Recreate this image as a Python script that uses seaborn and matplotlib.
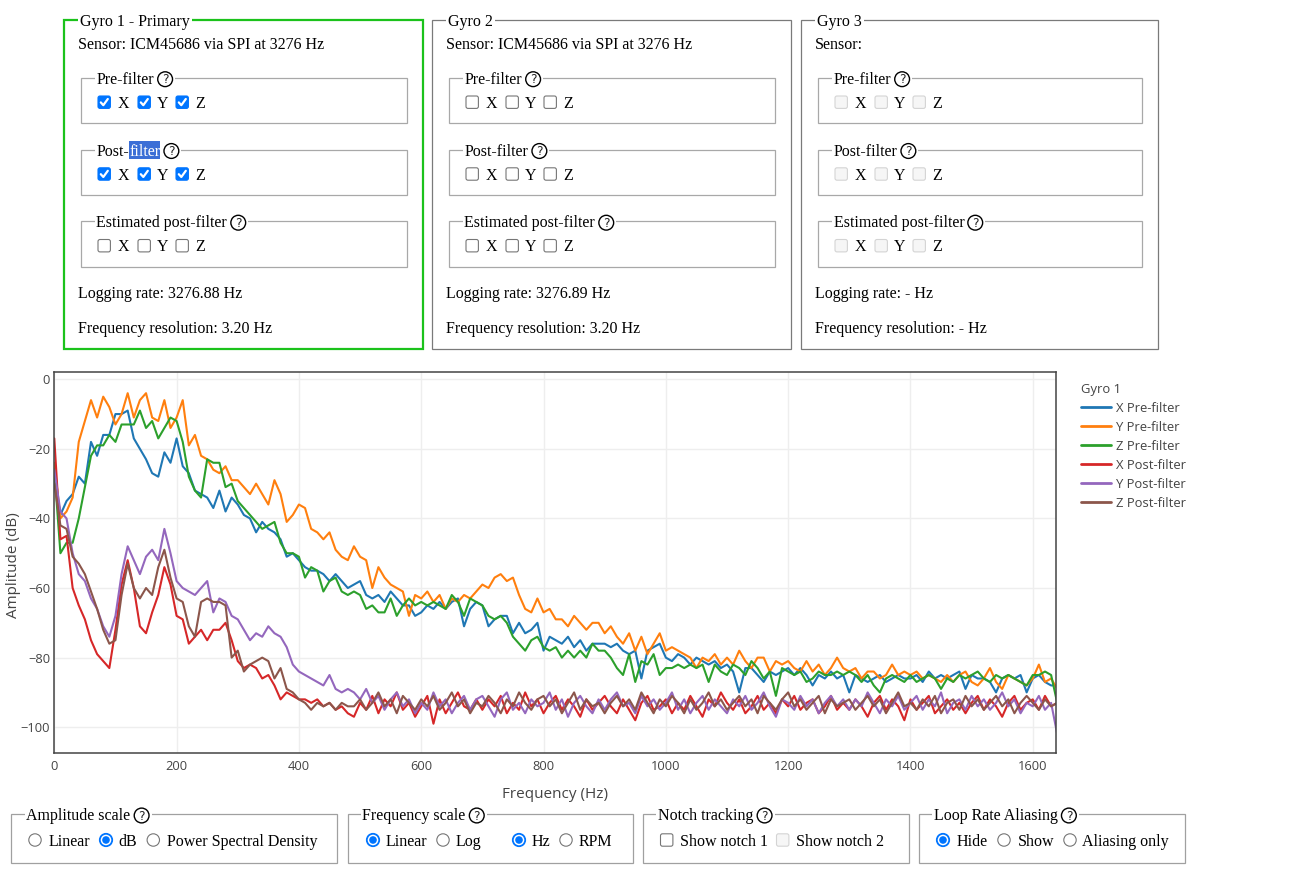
import matplotlib
matplotlib.use("Agg")
import matplotlib.pyplot as plt
from matplotlib.patches import Rectangle, Circle, FancyBboxPatch
from matplotlib.lines import Line2D
import seaborn as sns
import pandas as pd
import numpy as np

W, H = 1301, 883

# spectrum in dB, one value every 10 Hz from 0 to 1640 Hz
FREQ_STEP = 10
freqs = np.arange(0, 1641, FREQ_STEP)

x_pre = [-28, -39, -35, -33, -28, -30, -18, -22, -16, -16,
         -10, -10, -9, -17, -20, -23, -27, -28, -21, -24,
         -17, -25, -27, -32, -33, -34, -37, -32, -38, -34,
         -36, -39, -40, -44, -41, -43, -44, -46, -51, -50,
         -52, -54, -55, -55, -56, -58, -56, -58, -60, -59,
         -58, -62, -63, -62, -64, -61, -63, -65, -65, -68,
         -67, -65, -66, -64, -66, -64, -63, -71, -66, -64,
         -65, -71, -69, -68, -68, -73, -70, -73, -72, -70,
         -78, -74, -75, -76, -74, -77, -75, -78, -76, -76,
         -76, -77, -76, -78, -79, -78, -86, -78, -77, -76,
         -80, -81, -79, -80, -82, -80, -81, -82, -81, -83,
         -82, -84, -90, -83, -83, -85, -87, -84, -85, -84,
         -83, -85, -83, -85, -88, -85, -86, -84, -86, -85,
         -90, -85, -86, -87, -86, -85, -87, -86, -85, -86,
         -86, -85, -87, -84, -86, -85, -86, -85, -84, -89,
         -85, -86, -86, -87, -90, -86, -85, -86, -85, -90,
         -86, -85, -87, -88, -88]

y_pre = [-24, -40, -38, -34, -18, -12, -6, -11, -5, -8,
         -13, -10, -4, -11, -6, -4, -11, -12, -6, -14,
         -11, -6, -19, -16, -22, -23, -26, -27, -25, -29,
         -29, -31, -33, -30, -33, -36, -29, -33, -41, -39,
         -36, -37, -43, -44, -46, -44, -49, -51, -52, -48,
         -51, -52, -60, -54, -57, -59, -60, -61, -68, -62,
         -63, -61, -64, -62, -66, -63, -64, -62, -63, -61,
         -59, -60, -57, -56, -58, -57, -62, -66, -67, -63,
         -67, -66, -69, -69, -71, -68, -70, -72, -70, -70,
         -73, -71, -74, -76, -73, -78, -74, -79, -76, -73,
         -78, -77, -78, -79, -80, -83, -80, -81, -79, -82,
         -80, -82, -78, -81, -83, -80, -80, -84, -81, -82,
         -81, -83, -84, -81, -84, -82, -85, -83, -80, -83,
         -84, -83, -86, -84, -84, -86, -85, -82, -85, -84,
         -85, -84, -86, -85, -86, -87, -85, -87, -85, -84,
         -87, -88, -86, -83, -87, -89, -85, -86, -87, -88,
         -86, -82, -87, -86, -89]

z_pre = [-26, -50, -47, -47, -40, -31, -22, -19, -19, -16,
         -18, -13, -13, -13, -9, -14, -12, -17, -14, -11,
         -12, -18, -28, -32, -34, -23, -24, -24, -31, -30,
         -35, -37, -39, -41, -43, -42, -41, -47, -50, -50,
         -51, -57, -54, -55, -61, -58, -57, -61, -62, -61,
         -62, -66, -65, -67, -67, -63, -68, -65, -63, -65,
         -64, -65, -64, -65, -66, -62, -64, -68, -63, -64,
         -65, -68, -69, -68, -70, -74, -76, -78, -75, -74,
         -77, -78, -77, -80, -78, -80, -78, -80, -76, -78,
         -78, -80, -83, -85, -79, -87, -81, -82, -79, -85,
         -83, -83, -82, -83, -82, -83, -82, -87, -82, -84,
         -85, -82, -83, -85, -81, -83, -86, -84, -91, -83,
         -84, -85, -84, -87, -86, -84, -85, -85, -84, -85,
         -84, -85, -87, -85, -88, -90, -86, -85, -86, -87,
         -85, -87, -86, -85, -86, -89, -86, -87, -85, -86,
         -85, -84, -86, -87, -85, -86, -85, -86, -87, -88,
         -85, -85, -84, -85, -93]

x_post = [-17, -46, -45, -60, -65, -69, -75, -79, -81, -83,
          -72, -59, -52, -60, -71, -73, -67, -62, -54, -59,
          -68, -69, -76, -74, -72, -75, -72, -72, -70, -75,
          -81, -83, -82, -83, -86, -85, -88, -92, -90, -91,
          -92, -92, -93, -92, -94, -93, -95, -94, -96, -97,
          -93, -95, -91, -96, -92, -94, -90, -95, -93, -97,
          -94, -91, -99, -92, -96, -93, -90, -94, -95, -92,
          -95, -92, -94, -91, -96, -93, -95, -90, -94, -92,
          -96, -93, -91, -95, -92, -94, -97, -92, -95, -93,
          -91, -94, -96, -92, -95, -98, -93, -91, -95, -94,
          -92, -96, -93, -95, -91, -94, -97, -92, -94, -90,
          -93, -95, -92, -96, -94, -91, -95, -93, -96, -92,
          -94, -91, -95, -93, -92, -96, -94, -91, -95, -93,
          -95, -92, -94, -97, -93, -91, -95, -92, -94, -98,
          -92, -95, -93, -91, -96, -94, -92, -95, -93, -96,
          -93, -91, -95, -92, -94, -97, -93, -91, -95, -93,
          -92, -95, -91, -94, -93]

y_post = [-26, -38, -40, -50, -56, -58, -63, -66, -71, -74,
          -68, -56, -48, -52, -56, -51, -49, -52, -43, -50,
          -58, -60, -61, -62, -60, -58, -67, -63, -64, -68,
          -69, -72, -75, -73, -74, -71, -73, -74, -77, -82,
          -84, -85, -86, -87, -88, -85, -89, -90, -89, -90,
          -92, -89, -93, -91, -95, -92, -90, -94, -92, -96,
          -93, -95, -90, -94, -92, -96, -93, -91, -95, -92,
          -91, -94, -97, -92, -90, -95, -93, -96, -92, -94,
          -93, -90, -95, -92, -97, -93, -91, -94, -96, -92,
          -95, -92, -90, -94, -93, -96, -91, -94, -92, -95,
          -93, -90, -95, -92, -96, -93, -91, -95, -92, -94,
          -96, -92, -94, -91, -95, -93, -90, -94, -97, -92,
          -93, -95, -91, -94, -92, -96, -93, -91, -94, -92,
          -95, -92, -94, -90, -93, -96, -92, -94, -91, -95,
          -93, -91, -95, -92, -94, -90, -96, -93, -92, -95,
          -91, -94, -92, -95, -93, -90, -94, -92, -96, -93,
          -94, -91, -95, -93, -102]

z_post = [-30, -42, -43, -51, -53, -56, -61, -66, -72, -76,
          -75, -62, -53, -60, -63, -60, -62, -54, -49, -57,
          -63, -64, -71, -74, -64, -63, -64, -64, -65, -80,
          -78, -84, -82, -81, -80, -81, -86, -83, -89, -90,
          -92, -93, -95, -93, -94, -93, -95, -93, -94, -94,
          -92, -95, -93, -90, -94, -92, -96, -91, -93, -95,
          -92, -94, -91, -95, -93, -90, -94, -92, -96, -93,
          -94, -91, -93, -96, -92, -94, -90, -93, -95, -92,
          -91, -94, -92, -96, -93, -90, -95, -92, -94, -93,
          -96, -93, -91, -94, -92, -95, -90, -93, -96, -92,
          -94, -91, -93, -96, -92, -95, -93, -90, -94, -92,
          -95, -93, -91, -94, -92, -96, -91, -93, -95, -92,
          -90, -94, -92, -95, -93, -91, -96, -92, -94, -93,
          -92, -95, -93, -91, -94, -92, -96, -93, -90, -94,
          -93, -95, -92, -94, -91, -96, -93, -92, -95, -91,
          -94, -92, -95, -93, -91, -94, -92, -96, -93, -91,
          -93, -95, -92, -94, -93]

trace_names = ["X Pre-filter", "Y Pre-filter", "Z Pre-filter",
               "X Post-filter", "Y Post-filter", "Z Post-filter"]
trace_colors = ["#1f77b4", "#ff7f0e", "#2ca02c", "#d62728", "#9467bd", "#8c564b"]
x_ticks = [0, 200, 400, 600, 800, 1000, 1200, 1400, 1600]
y_ticks = [0, -20, -40, -60, -80, -100]

# panel texts
gyro_titles = ["Gyro 1 - Primary", "Gyro 2", "Gyro 3"]
sensor_lines = ["Sensor: ICM45686 via SPI at 3276 Hz",
                "Sensor: ICM45686 via SPI at 3276 Hz", "Sensor:"]
logging_rates = ["Logging rate: 3276.88 Hz", "Logging rate: 3276.89 Hz", "Logging rate: - Hz"]
freq_resolutions = ["Frequency resolution: 3.20 Hz", "Frequency resolution: 3.20 Hz",
                    "Frequency resolution: - Hz"]
group_titles = ["Pre-filter", "Post-filter", "Estimated post-filter"]
group_states = [["on", "on", "off"], ["off", "off", "off"], ["disabled"] * 3]

df = pd.DataFrame({
    "freq": np.tile(freqs, 6),
    "amp": np.concatenate([x_pre, y_pre, z_pre, x_post, y_post, z_post]),
    "trace": np.repeat(trace_names, len(freqs)),
})

sns.set_style("white")
plt.rcParams["font.family"] = ["Open Sans", "DejaVu Sans"]
UI_FONT = ["Liberation Serif", "DejaVu Serif"]
FS = 11.52
GREY = "#444444"

fig = plt.figure(figsize=(W / 100, H / 100), dpi=100)
ui = fig.add_axes([0, 0, 1, 1])
ui.set_xlim(0, W)
ui.set_ylim(H, 0)
ui.axis("off")
renderer = fig.canvas.get_renderer()


def put(x, y, s, color="black", size=FS):
    t = ui.text(x, y, s, fontsize=size, color=color, fontfamily=UI_FONT,
                va="baseline", ha="left", zorder=6)
    return t.get_window_extent(renderer=renderer).x1


def help_icon(cx, cy):
    ui.add_patch(Circle((cx, cy), 7.4, fc="white", ec="black", lw=1.0, zorder=6))
    ui.text(cx, cy + 0.7, "?", fontsize=8.8, fontfamily="DejaVu Sans", ha="center",
            va="center", zorder=7)


def fieldset(x0, y0, x1, y1, title, ec="#a0a0a0", lw=0.9, dx=16, helpq=True, highlight=False):
    ui.add_patch(Rectangle((x0, y0), x1 - x0, y1 - y0, fill=False, ec=ec, lw=lw, zorder=2))
    tx = x0 + dx
    if highlight:
        head, tail = title.split("-", 1)
        mid = put(tx, y0 + 6, head + "-")
        end = put(mid, y0 + 6, tail, color="white")
        ui.add_patch(Rectangle((mid, y0 - 9), end - mid, 18, fc="#3c6fd6", ec="none", zorder=5))
    else:
        end = put(tx, y0 + 6, title)
    if helpq:
        help_icon(end + 11, y0 + 1.5)
        end = end + 19
    ui.add_patch(Rectangle((tx - 2, y0 - 3), end - tx + 4, 6, fc="white", ec="none", zorder=3))


def checkbox(x, cy, state):
    if state == "on":
        ui.add_patch(FancyBboxPatch((x, cy - 6.2), 12.4, 12.4, boxstyle="round,pad=0,rounding_size=2",
                                    fc="#0075ff", ec="#0075ff", lw=0.8, zorder=5))
        ui.add_line(Line2D([x + 2.8, x + 5.3, x + 9.8], [cy + 0.2, cy + 3, cy - 3.2],
                           color="white", lw=1.6, zorder=6))
    else:
        ec, fc = ("#767676", "white") if state == "off" else ("#d4d4d4", "#f6f6f6")
        ui.add_patch(FancyBboxPatch((x, cy - 6.2), 12.4, 12.4, boxstyle="round,pad=0,rounding_size=2",
                                    fc=fc, ec=ec, lw=0.8, zorder=5))


def radio(cx, cy, on):
    if on:
        ui.add_patch(Circle((cx, cy), 6.2, fc="white", ec="#0075ff", lw=1.3, zorder=5))
        ui.add_patch(Circle((cx, cy), 3.8, fc="#0075ff", ec="none", zorder=6))
    else:
        ui.add_patch(Circle((cx, cy), 6.2, fc="white", ec="#767676", lw=0.8, zorder=5))


# gyro panels
panel_x = [(64, 423), (432, 791), (801, 1158)]
for i, (L, R) in enumerate(panel_x):
    ec = "#1bc21b" if i == 0 else "#7a7a7a"
    fieldset(L, 19.5, R, 348.5, gyro_titles[i], ec=ec, lw=1.6 if i == 0 else 0.9, helpq=False)
    put(L + 14, 49.3, sensor_lines[i])
    for g, gy in enumerate([77.7, 149.5, 221.2]):
        fieldset(L + 16.5, gy, R - 16.5, gy + 45.5, group_titles[g], ec="#a8a8a8",
                 highlight=(i == 0 and g == 1))
        row = gy + 30
        st = group_states[i][g]
        for bx, lx, lab in [(34, 54, "X"), (74, 93, "Y"), (112, 131, "Z")]:
            checkbox(L + bx, row - 5.5, st)
            put(L + lx, row, lab)
    put(L + 14, 297.7, logging_rates[i])
    put(L + 14, 333.3, freq_resolutions[i])

# bottom controls
BY0, BY1, ROW = 814, 863, 845.5
fieldset(11, BY0, 336.5, BY1, "Amplitude scale", ec="#a0a0a0", dx=15.5)
for cx, on, tx, lab in [(35, False, 49, "Linear"), (106, True, 118, "dB"),
                        (153.3, False, 167, "Power Spectral Density")]:
    radio(cx, ROW - 5.5, on)
    put(tx, ROW, lab)
fieldset(347.5, BY0, 632.5, BY1, "Frequency scale", ec="#a0a0a0", dx=15)
for cx, on, tx, lab in [(373, True, 386, "Linear"), (443, False, 456, "Log"),
                        (519, True, 532, "Hz"), (566, False, 579, "RPM")]:
    radio(cx, ROW - 5.5, on)
    put(tx, ROW, lab)
fieldset(642.7, BY0, 908.7, BY1, "Notch tracking", ec="#a0a0a0", dx=15.5)
checkbox(660.5, ROW - 5.5, "off")
put(680.5, ROW, "Show notch 1")
checkbox(776.5, ROW - 5.5, "disabled")
put(796.5, ROW, "Show notch 2")
fieldset(919, BY0, 1184.5, BY1, "Loop Rate Aliasing", ec="#a0a0a0", dx=15)
for cx, on, tx, lab in [(943, True, 957, "Hide"), (1004, False, 1018, "Show"),
                        (1070, False, 1082, "Aliasing only")]:
    radio(cx, ROW - 5.5, on)
    put(tx, ROW, lab)

# spectrum chart
left, right, top, bottom = 54.3, 1056.0, 372.3, 753.3
ax = fig.add_axes([left / W, 1 - bottom / H, (right - left) / W, (bottom - top) / H])
ax.set_facecolor("white")
sns.lineplot(data=df, x="freq", y="amp", hue="trace", hue_order=trace_names,
             palette=trace_colors, linewidth=1.5, estimator=None, sort=False,
             errorbar=None, ax=ax)
ax.set_xlim(0, 1638)
ax.set_ylim(-107.5, 2.0)
ax.set_xticks(x_ticks)
ax.set_yticks(y_ticks)
ax.grid(True, color="#eeeeee", lw=1.0)
ax.set_axisbelow(True)
for sp in ax.spines.values():
    sp.set_color(GREY)
    sp.set_linewidth(1.1)
ax.tick_params(axis="both", length=0, labelsize=9.3, labelcolor=GREY)
ax.tick_params(axis="x", pad=4.5)
ax.tick_params(axis="y", pad=3)
ax.set_xlabel("Frequency (Hz)", fontsize=11, color=GREY)
ax.set_ylabel("Amplitude (dB)", fontsize=11, color=GREY)
ax.xaxis.label.set_va("center")
ax.yaxis.label.set_va("center")
ax.xaxis.set_label_coords((555 - left) / (right - left), -(795 - bottom) / (bottom - top))
ax.yaxis.set_label_coords((14 - left) / (right - left), (bottom - 565) / (bottom - top))

old = ax.get_legend()
handles = old.legend_handles
labels = [t.get_text() for t in old.get_texts()]
old.remove()
leg = ax.legend(handles, labels, title="Gyro 1", loc="upper left",
                bbox_to_anchor=(1081 / W, 1 - 383 / H), bbox_transform=fig.transFigure,
                frameon=False, borderpad=0, borderaxespad=0, handlelength=2.3,
                handletextpad=0.4, labelspacing=0.46, fontsize=9.4,
                title_fontsize=9.4, alignment="left")
leg.get_title().set_color(GREY)
for t in leg.get_texts():
    t.set_color(GREY)
for h in leg.legend_handles:
    h.set_linewidth(2)

fig.savefig("out.png", dpi=100, facecolor="white")
